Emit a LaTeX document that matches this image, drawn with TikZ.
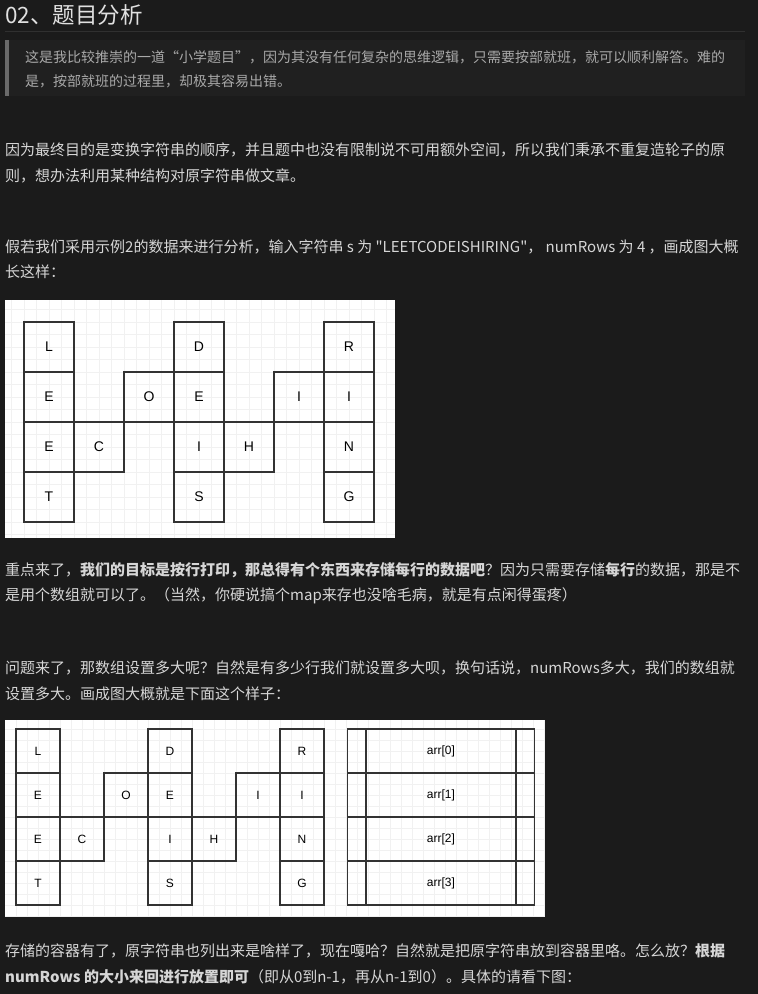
\documentclass[tikz,border=0pt]{standalone}
\usepackage{fontspec}
\setmainfont{Noto Sans CJK SC}[Ligatures=TeXOff]
\newfontfamily\lettfont{Liberation Sans}
\usetikzlibrary{positioning}
\definecolor{pagebg}{HTML}{1B1B1B}
\definecolor{quotebg}{HTML}{202020}
\definecolor{quotebar}{HTML}{6A6A6A}
\definecolor{quotetext}{HTML}{A9A9A9}
\definecolor{bodytext}{HTML}{D6D6D6}
\definecolor{rulecol}{HTML}{303030}
\definecolor{gridcol}{HTML}{F1F1F1}
\definecolor{boxline}{HTML}{333333}

\begin{document}
\begin{tikzpicture}[x=1pt,y=-1pt,
    txt/.style={anchor=west,inner sep=0pt,text=bodytext,font=\fontsize{15pt}{15pt}\selectfont},
    quote/.style={txt,text=quotetext,font=\fontsize{14pt}{14pt}\selectfont},
    cell/.style={draw=boxline,line width=1.6pt,minimum size=50pt,inner sep=0pt,outer sep=0pt,font=\lettfont\fontsize{14pt}{14pt}\selectfont},
    cellb/.style={cell,line width=1.4pt,minimum size=44pt,font=\lettfont\fontsize{12pt}{12pt}\selectfont},
    arr/.style={cellb,minimum width=150pt,minimum height=44pt},
    arrside/.style={cellb,minimum width=18.5pt,minimum height=44pt},
    gridline/.style={gridcol,line width=0.5pt}]
        \useasboundingbox (0,0) rectangle (758,994);
        \fill[pagebg] (0,0) rectangle (758,994);

        % heading and quote
        \node[txt,font=\fontsize{22.5pt}{22.5pt}\selectfont,text=white!88!black] (head) at (5,15) {02、题目分析};
        \draw[rulecol,line width=0.8pt] (5,31) -- (745,31);
        \fill[quotebg] (5,40) rectangle (745,96);
        \fill[quotebar] (5,40) rectangle (8.5,96);
        \node[quote] (q1) at (25,57) {这是我比较推崇的一道“小学题目”，因为其没有任何复杂的思维逻辑，只需要按部就班，就可以顺利解答。难的};
        \node[quote] (q2) at (25,81) {是，按部就班的过程里，却极其容易出错。};

        \node[txt] (p1a) at (5,150) {因为最终目的是变换字符串的顺序，并且题中也没有限制说不可用额外空间，所以我们秉承不重复造轮子的原};
        \node[txt] (p1b) at (5,176) {则，想办法利用某种结构对原字符串做文章。};

        \node[txt] (p2a) at (5,247) {假若我们采用示例2的数据来进行分析，输入字符串 s 为 "LEETCODEISHIRING"， numRows 为 4 ，画成图大概};
        \node[txt] (p2b) at (5,272) {长这样：};

        % first picture
        \fill[white] (5,300) rectangle (395,538);
        \foreach \k in {-1,...,29}
            \draw[gridline] (24+\k*12.5,300) -- (24+\k*12.5,538);
        \foreach \k in {-1,...,17}
            \draw[gridline] (5,322+\k*12.5) -- (395,322+\k*12.5);

        \node[cell] (L) at (49,347) {L};
        \node[cell,below=0pt of L] (E1) {E};
        \node[cell,below=0pt of E1] (E2) {E};
        \node[cell,below=0pt of E2] (T) {T};
        \node[cell,right=0pt of E2] (C) {C};
        \node[cell,above right=0pt of C] (O) {O};
        \node[cell,above right=0pt of O] (D) {D};
        \node[cell,below=0pt of D] (E3) {E};
        \node[cell,below=0pt of E3] (I1) {I};
        \node[cell,below=0pt of I1] (S) {S};
        \node[cell,right=0pt of I1] (H) {H};
        \node[cell,above right=0pt of H] (I2) {I};
        \node[cell,above right=0pt of I2] (R) {R};
        \node[cell,below=0pt of R] (I3) {I};
        \node[cell,below=0pt of I3] (N) {N};
        \node[cell,below=0pt of N] (G) {G};

        \node[txt] (p3a) at (5,570) {重点来了，\textbf{我们的目标是按行打印，那总得有个东西来存储每行的数据吧}？因为只需要存储\textbf{每行}的数据，那是不};
        \node[txt] (p3b) at (5,596) {是用个数组就可以了。（当然，你硬说搞个map来存也没啥毛病，就是有点闲得蛋疼）};

        \node[txt] (p4a) at (5,668) {问题来了，那数组设置多大呢？自然是有多少行我们就设置多大呗，换句话说，numRows多大，我们的数组就};
        \node[txt] (p4b) at (5,694) {设置多大。画成图大概就是下面这个样子：};

        % second picture
        \fill[white] (5,720) rectangle (545,917);
        \foreach \k in {0,...,48}
            \draw[gridline] (16+\k*11,720) -- (16+\k*11,917);
        \foreach \k in {0,...,17}
            \draw[gridline] (5,729+\k*11) -- (545,729+\k*11);

        \node[cellb] (Lb) at (38,751) {L};
        \node[cellb,below=0pt of Lb] (E1b) {E};
        \node[cellb,below=0pt of E1b] (E2b) {E};
        \node[cellb,below=0pt of E2b] (Tb) {T};
        \node[cellb,right=0pt of E2b] (Cb) {C};
        \node[cellb,above right=0pt of Cb] (Ob) {O};
        \node[cellb,above right=0pt of Ob] (Db) {D};
        \node[cellb,below=0pt of Db] (E3b) {E};
        \node[cellb,below=0pt of E3b] (I1b) {I};
        \node[cellb,below=0pt of I1b] (Sb) {S};
        \node[cellb,right=0pt of I1b] (Hb) {H};
        \node[cellb,above right=0pt of Hb] (I2b) {I};
        \node[cellb,above right=0pt of I2b] (Rb) {R};
        \node[cellb,below=0pt of Rb] (I3b) {I};
        \node[cellb,below=0pt of I3b] (Nb) {N};
        \node[cellb,below=0pt of Nb] (Gb) {G};

        \node[arr] (a0) at (441,751) {arr[0]};
        \node[arr,below=0pt of a0] (a1) {arr[1]};
        \node[arr,below=0pt of a1] (a2) {arr[2]};
        \node[arr,below=0pt of a2] (a3) {arr[3]};
        \node[arrside,left=0pt of a0] (a0l) {};
        \node[arrside,left=0pt of a1] (a1l) {};
        \node[arrside,left=0pt of a2] (a2l) {};
        \node[arrside,left=0pt of a3] (a3l) {};
        \node[arrside,right=0pt of a0] (a0r) {};
        \node[arrside,right=0pt of a1] (a1r) {};
        \node[arrside,right=0pt of a2] (a2r) {};
        \node[arrside,right=0pt of a3] (a3r) {};

        \node[txt] (p5a) at (5,951) {存储的容器有了，原字符串也列出来是啥样了，现在嘎哈？自然就是把原字符串放到容器里咯。怎么放？\textbf{根据}};
        \node[txt] (p5b) at (5,977) {\textbf{numRows 的大小来回进行放置即可}（即从0到n-1，再从n-1到0）。具体的请看下图：};
\end{tikzpicture}
\end{document}
